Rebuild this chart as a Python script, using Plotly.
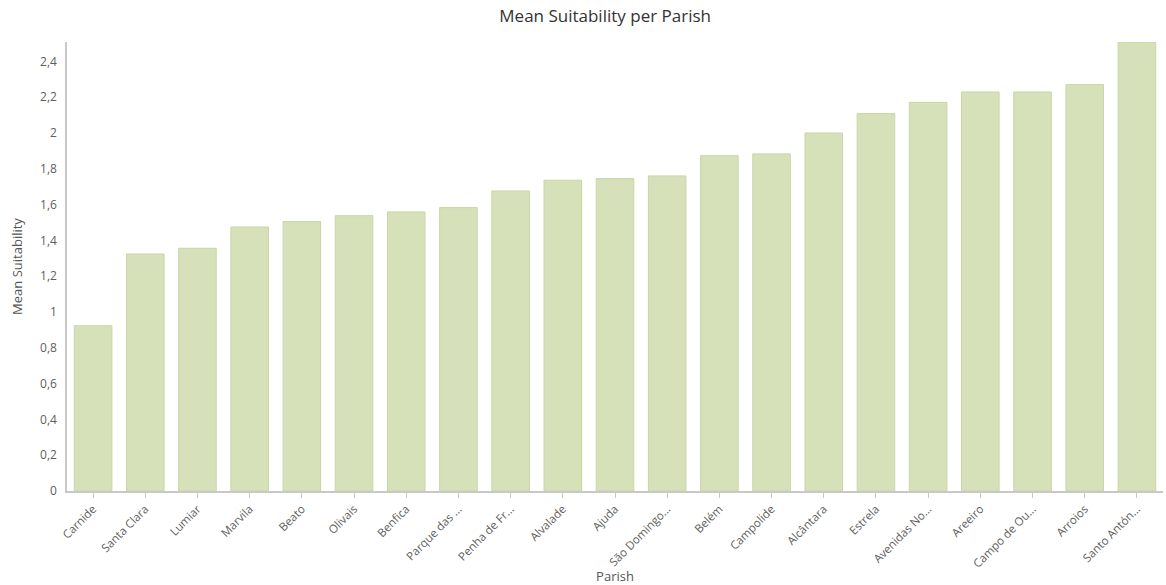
import plotly.graph_objects as go

parishes = ["Carnide", "Santa Clara", "Lumiar", "Marvila", "Beato", "Olivais", "Benfica",
            "Parque das ...", "Penha de Fr...", "Alvalade", "Ajuda", "São Domingo...", "Belém",
            "Campolide", "Alcântara", "Estrela", "Avenidas No...", "Areeiro", "Campo de Ou...",
            "Arroios", "Santo Antón..."]
mean_suitability = [0.923, 1.324, 1.356, 1.475, 1.505, 1.538, 1.559, 1.583, 1.676, 1.736,
                    1.745, 1.760, 1.873, 1.883, 2.000, 2.108, 2.171, 2.229, 2.229, 2.270, 2.508]
y_ticks = [0, 0.2, 0.4, 0.6, 0.8, 1, 1.2, 1.4, 1.6, 1.8, 2, 2.2, 2.4]

FONT = "Open Sans, Noto Sans, sans-serif"

fig = go.Figure(go.Bar(
    x=parishes, y=mean_suitability,
    marker=dict(color="#d6e1b9", line=dict(color="#c9d6a6", width=1)),
    hoverinfo="x+y",
))

fig.update_layout(
    width=1166, height=585,
    margin=dict(l=67, r=3, t=42, b=94),
    paper_bgcolor="white", plot_bgcolor="white",
    separators=", ",
    bargap=0.28,
    showlegend=False,
    font=dict(family=FONT, color="#605e5c", size=12),
    title=dict(text="Mean Suitability per Parish", x=0.519, xanchor="center",
               y=0.972, yanchor="middle",
               font=dict(family=FONT, size=17, color="#333333")),
    xaxis=dict(
        title=dict(text="Parish", font=dict(size=13, color="#555555"), standoff=4),
        tickangle=-45, showgrid=False, showline=True, linecolor="#c8c8c8", linewidth=1.5,
        ticks="outside", ticklen=5, tickcolor="#c8c8c8", automargin=False,
        tickfont=dict(size=11.5, color="#605e5c"),
    ),
    yaxis=dict(
        title=dict(text="Mean Suitability", font=dict(size=13, color="#555555"), standoff=14),
        range=[0, 2.508], tickvals=y_ticks, showgrid=False, zeroline=False,
        showline=True, linecolor="#c8c8c8", linewidth=1.5, ticks="", automargin=False,
        ticklabelstandoff=6,
        tickfont=dict(size=12, color="#605e5c"),
    ),
)

fig.write_html("out.html")
